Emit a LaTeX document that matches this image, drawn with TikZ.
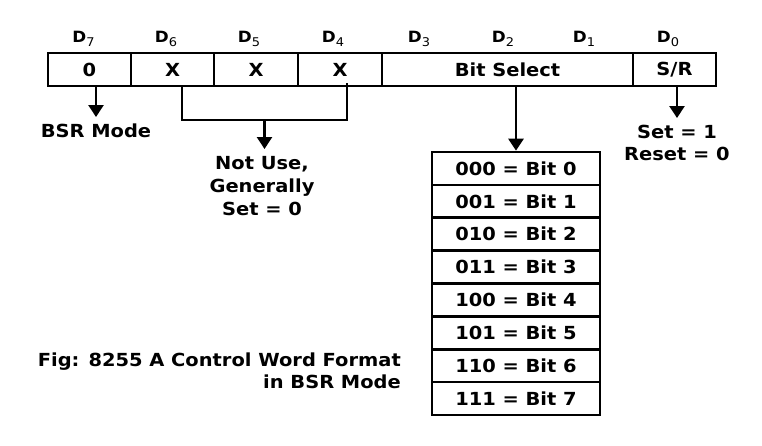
\documentclass[tikz,border=0pt]{standalone}
\usepackage{fontspec}
\setmainfont{DejaVu Sans}[FakeStretch=1.08]
\usetikzlibrary{arrows.meta}

\newcommand{\dbit}[1]{{\fontsize{15.5}{16}\selectfont D}\raisebox{-4pt}{\fontsize{12}{12}\mdseries\selectfont#1}}

\begin{document}
\begin{tikzpicture}[
    x=1pt,
    y=-1pt,
    every node/.style={font=\bfseries\fontsize{18}{23}\selectfont},
    cell/.style={draw,line width=2.6pt,minimum height=33pt,inner sep=0pt},
    bitrow/.style={draw,line width=2.6pt,minimum width=168pt,minimum height=32.875pt,inner sep=0pt},
    note/.style={align=center,inner sep=0pt,outer sep=7pt},
    link/.style={line width=2.6pt},
    arr/.style={line width=2.6pt,-{Triangle[width=15pt,length=12pt]}}
]
\useasboundingbox (0,0) rectangle (762,445);

% Bit numbers.
\node (l7) at (83.5,39) {\dbit{7}};
\node (l6) at (166,39) {\dbit{6}};
\node (l5) at (249,39) {\dbit{5}};
\node (l4) at (333,39) {\dbit{4}};
\node (l3) at (419,39) {\dbit{3}};
\node (l2) at (503,39) {\dbit{2}};
\node (l1) at (584,39) {\dbit{1}};
\node (l0) at (668,39) {\dbit{0}};

% Control word cells.
\node[cell,minimum width=83pt] (d7) at (89.5,69.5) {0};
\node[cell,minimum width=83pt] (d6) at (172.5,69.5) {X};
\node[cell,minimum width=84pt] (d5) at (256,69.5) {X};
\node[cell,minimum width=84pt] (d4) at (340,69.5) {\raisebox{-4pt}{X}};
\node[cell,minimum width=251pt] (sel) at (507.5,69.5) {Bit Select};
\node[cell,minimum width=83pt] (sr) at (674.5,69.5) {S/R};

% Notes below the cells.
\node[note,anchor=north] (bsr) at (96,117) {BSR Mode};
\node[note,anchor=north] (notuse) at (262,149) {Not Use,\\Generally\\Set = 0};
\node[note,anchor=north] (setrst) at (677,118) {Set = 1\\[-1pt]Reset = 0};

\draw[arr] (d7.south -| bsr.north) -- (bsr.north);
\draw[arr] (sr.south -| setrst.north) -- (setrst.north);

% Bracket over D6..D4.
\coordinate (bl) at (182,86);
\coordinate (br) at (347,83);
\coordinate (bj) at (264.5,120);
\draw[link] (bl) |- (bj) -| (br);
\draw[arr] (bj) -- (bj |- notuse.north);

% Bit select table.
\foreach \pat [count=\i from 0] in {000,001,010,011,100,101,110,111}
    \node[bitrow] (b\i) at (516,168.44+\i*32.875) {\pat{} = Bit \i};
\draw[arr] (sel.south -| b0.north) -- (b0.north);

% Caption.
\node[align=right,anchor=east,inner sep=0pt] (caption) at (401,371)
    {Fig: 8255 A Control Word Format\\[-1pt]in BSR Mode};

\end{tikzpicture}
\end{document}
